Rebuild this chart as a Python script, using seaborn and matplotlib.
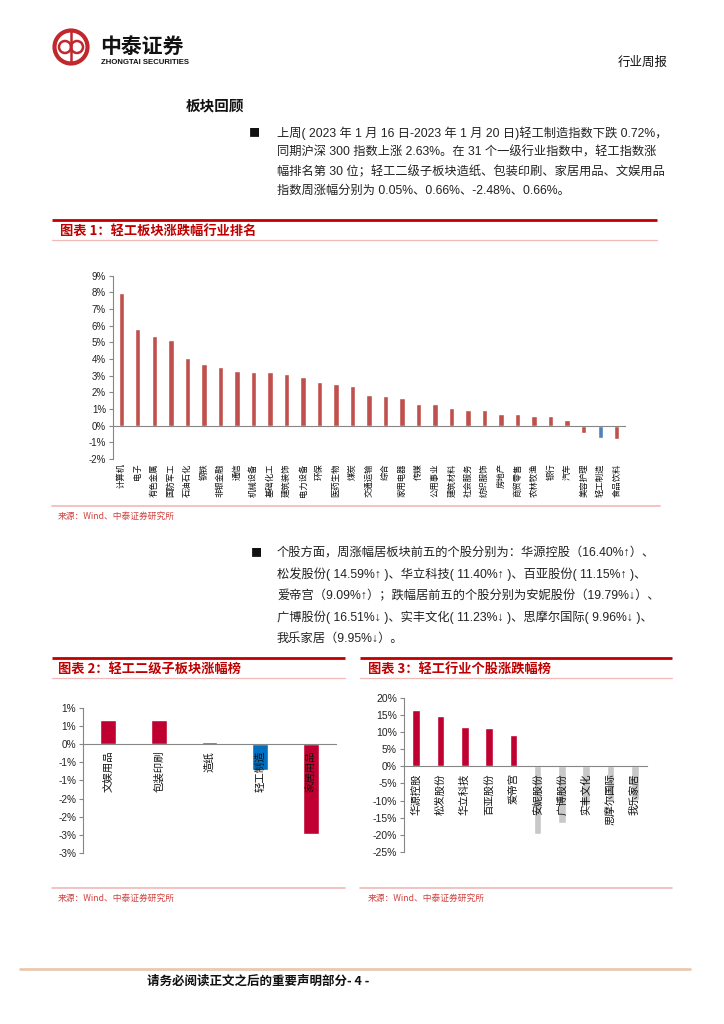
import numpy as np
import matplotlib
matplotlib.use('Agg')
import matplotlib.pyplot as plt
from matplotlib.patches import Circle
from matplotlib.ticker import FuncFormatter
import seaborn as sns

# Chart 1: industry weekly change (%)
cats1 = ['计算机', '电子', '有色金属', '国防军工', '石油石化', '钢铁', '非银金融', '通信',
         '机械设备', '基础化工', '建筑装饰', '电力设备', '环保', '医药生物', '煤炭', '交通运输',
         '综合', '家用电器', '传媒', '公用事业', '建筑材料', '社会服务', '纺织服饰', '房地产',
         '商贸零售', '农林牧渔', '银行', '汽车', '美容护理', '轻工制造', '食品饮料']
vals1 = [7.98, 5.83, 5.41, 5.17, 4.09, 3.71, 3.55, 3.31, 3.25, 3.23, 3.09, 2.95, 2.61, 2.49,
         2.38, 1.82, 1.80, 1.66, 1.30, 1.28, 1.08, 0.96, 0.96, 0.72, 0.70, 0.60, 0.56, 0.34,
         -0.44, -0.72, -0.82]

# Chart 2: sub-sector change (%)
cats2 = ['文娱用品', '包装印刷', '造纸', '轻工制造', '家居用品']
vals2 = [0.66, 0.66, 0.05, -0.72, -2.48]
ticks2 = [1.0, 0.5, 0.0, -0.5, -1.0, -1.5, -2.0, -2.5, -3.0]
ticklabels2 = ['1%', '1%', '0%', '-1%', '-1%', '-2%', '-2%', '-3%', '-3%']

# Chart 3: top / bottom stocks (%)
cats3 = ['华源控股', '松发股份', '华立科技', '百亚股份', '爱帝宫',
         '安妮股份', '广博股份', '实丰文化', '思摩尔国际', '我乐家居']
vals3 = [16.40, 14.59, 11.40, 11.15, 9.09, -19.79, -16.51, -11.23, -9.96, -9.95]

para1 = ['上周( 2023 年 1 月 16 日-2023 年 1 月 20 日)轻工制造指数下跌 0.72%，',
         '同期沪深 300 指数上涨 2.63%。在 31 个一级行业指数中，轻工指数涨',
         '幅排名第 30 位；轻工二级子板块造纸、包装印刷、家居用品、文娱用品',
         '指数周涨幅分别为 0.05%、0.66%、-2.48%、0.66%。']
para2 = ['个股方面，周涨幅居板块前五的个股分别为：华源控股（16.40%↑）、',
         '松发股份( 14.59%↑ )、华立科技( 11.40%↑ )、百亚股份( 11.15%↑ )、',
         '爱帝宫（9.09%↑）；跌幅居前五的个股分别为安妮股份（19.79%↓）、',
         '广博股份( 16.51%↓ )、实丰文化( 11.23%↓ )、思摩尔国际( 9.96%↓ )、',
         '我乐家居（9.95%↓）。']

sns.set_style('white')
plt.rcParams['font.family'] = ['Liberation Sans', 'Noto Sans CJK SC']
plt.rcParams['axes.unicode_minus'] = False

W, H = 724, 1024
fig = plt.figure(figsize=(7.24, 10.24), dpi=100)

# page background axes in pixel coordinates
bg = fig.add_axes([0, 0, 1, 1])
bg.set_xlim(0, W)
bg.set_ylim(H, 0)
bg.axis('off')

RED = '#C00000'
PINK = '#F2B9B9'
CJK = ['Noto Sans CJK SC', 'DejaVu Sans']

# logo
LOGO = '#C0282D'
bg.add_patch(Circle((71, 47), 16.5, fill=False, ec=LOGO, lw=3.0))
bg.add_patch(Circle((65, 47), 6, fill=False, ec=LOGO, lw=1.8))
bg.add_patch(Circle((77, 47), 6, fill=False, ec=LOGO, lw=1.8))
bg.plot([71, 71], [32, 62], color=LOGO, lw=1.8)
bg.text(100, 46, '中泰证券', fontsize=15, fontweight='bold', family=CJK, va='center', ha='left', color='#111111')
bg.text(101, 63, 'ZHONGTAI SECURITIES', fontsize=5.6, fontweight='bold', va='center', ha='left', color='#111111')
bg.text(668, 62, '行业周报', fontsize=9, family=CJK, va='center', ha='right', color='#111111')
bg.text(186, 105, '板块回顾', fontsize=10.5, fontweight='bold', family=CJK, va='center', ha='left', color='#111111')

# paragraphs
bg.text(254, 133, '■', fontsize=8, va='center', ha='center', color='#111111', family=CJK)
for i, line in enumerate(para1):
    bg.text(277, 133 + i * 19.3, line, fontsize=8.8, va='center', ha='left', color='#222222')
bg.text(256, 553, '■', fontsize=8, va='center', ha='center', color='#111111', family=CJK)
for i, line in enumerate(para2):
    bg.text(277, 553 + i * 21.5, line, fontsize=8.8, va='center', ha='left', color='#222222')

# section header / footer lines
def header(x0, x1, y, title, tx):
    bg.plot([x0, x1], [y, y], color=RED, lw=2.0, solid_capstyle='butt')
    bg.plot([x0, x1], [y + 20, y + 20], color=PINK, lw=0.9)
    bg.text(tx, y + 11, title, fontsize=9.5, fontweight='bold', color=RED, va='center', ha='left',
            family=CJK, fontstyle='italic')

def source(x0, x1, y, tx):
    bg.plot([x0, x1], [y, y], color=PINK, lw=1.2)
    bg.text(tx, y + 10, '来源：Wind、中泰证券研究所', fontsize=6.3, color='#D0413E', va='center',
            ha='left', family=CJK)

header(52, 657, 220, '图表 1：轻工板块涨跌幅行业排名', 60)
source(52, 660, 506, 58)
header(52, 345, 658, '图表 2：轻工二级子板块涨幅榜', 58)
source(52, 345, 888, 58)
header(360, 672, 658, '图表 3：轻工行业个股涨跌幅榜', 368)
source(360, 672, 888, 368)

bg.plot([20, 690], [969, 969], color='#E9C9B0', lw=2)
bg.text(147, 981, '请务必阅读正文之后的重要声明部分- 4 -', fontsize=9, fontweight='bold', family=CJK,
        va='center', ha='left', color='#111111')


def pix_axes(x0, x1, ytop, ybot):
    return fig.add_axes([x0 / W, 1 - ybot / H, (x1 - x0) / W, (ybot - ytop) / H])


def style_axis(ax, n, pad, label_size, tick_size):
    ax.set_axisbelow(False)
    for s in ['top', 'right']:
        ax.spines[s].set_visible(False)
    ax.spines['left'].set_color('#868686')
    ax.spines['left'].set_linewidth(0.8)
    ax.spines['bottom'].set_position(('data', 0))
    ax.spines['bottom'].set_color('#868686')
    ax.spines['bottom'].set_linewidth(0.8)
    ax.set_xlim(-0.5, n - 0.5)
    ax.set_xticks(np.arange(-0.5, n, 1.0), minor=True)
    ax.tick_params(axis='x', which='major', length=0, pad=pad, labelsize=label_size,
                   labelcolor='#111111')
    ax.tick_params(axis='x', which='minor', length=3, color='#868686', width=0.8, direction='out')
    ax.tick_params(axis='y', which='major', left=True, length=3, color='#868686', width=0.8,
                   labelsize=tick_size, labelcolor='#222222', pad=2)
    for lab in ax.get_xticklabels():
        lab.set_rotation(90)
        lab.set_va('top')
        lab.set_ha('center')
        lab.set_family(CJK)
    ax.set_xlabel('')
    ax.set_ylabel('')


pct = FuncFormatter(lambda v, p: f'{v:.0f}%')

# chart 1
ax1 = pix_axes(113, 625, 275.7, 459)
colors1 = ['#4F81BD' if c == '轻工制造' else '#C0504D' for c in cats1]
sns.barplot(x=cats1, y=vals1, hue=cats1, palette=colors1, width=0.33, saturation=1,
            legend=False, ax=ax1)
ax1.set_ylim(-2, 9)
ax1.set_yticks(range(-2, 10))
ax1.yaxis.set_major_formatter(pct)
style_axis(ax1, len(cats1), 27, 6, 7)

# chart 2
ax2 = pix_axes(83, 336, 707.7, 853)
colors2 = ['#0070C0' if c == '轻工制造' else '#C00030' for c in cats2]
sns.barplot(x=cats2, y=vals2, hue=cats2, palette=colors2, width=0.31, saturation=1,
            legend=False, ax=ax2)
ax2.set_ylim(-3, 1)
ax2.set_yticks(ticks2)
ax2.set_yticklabels(ticklabels2)
style_axis(ax2, len(cats2), 5, 7.5, 7.2)

# chart 3
ax3 = pix_axes(404, 647, 697.7, 852)
colors3 = ['#C00030' if v > 0 else '#C8C8C8' for v in vals3]
sns.barplot(x=cats3, y=vals3, hue=cats3, palette=colors3, width=0.31, saturation=1,
            legend=False, ax=ax3)
ax3.set_ylim(-25, 20)
ax3.set_yticks(range(-25, 21, 5))
ax3.yaxis.set_major_formatter(pct)
style_axis(ax3, len(cats3), 5, 7.5, 7.5)

fig.savefig('out.png', dpi=100)
